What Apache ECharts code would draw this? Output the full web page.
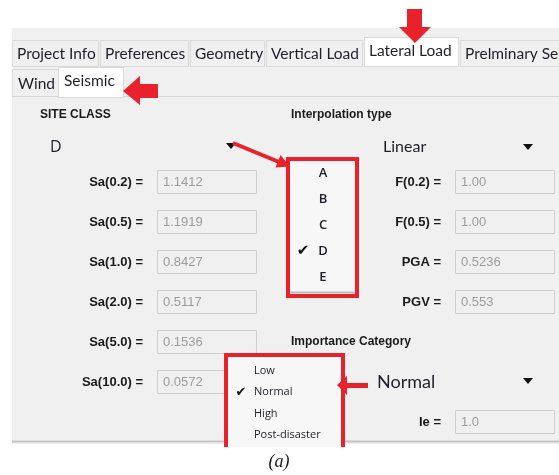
<!doctype html>
<html>
<head>
<meta charset="utf-8">
<title>Seismic - Lateral Load</title>
<script src="https://cdn.jsdelivr.net/npm/echarts@6/dist/echarts.min.js"></script>
<style>
    body{margin:0;background:#fff;}
    #main{width:559px;height:475px;}
</style>
</head>
<body>
<div id="main"></div>
<script>
    // texts and values
    var topTabs = ['Project Info', 'Preferences', 'Geometry', 'Vertical Load', 'Lateral Load', 'Prelminary Sec'];
    var activeTop = 'Lateral Load';
    var subTabs = ['Wind', 'Seismic'];
    var activeSub = 'Seismic';
    var saLabels = ['Sa(0.2) =', 'Sa(0.5) =', 'Sa(1.0) =', 'Sa(2.0) =', 'Sa(5.0) =', 'Sa(10.0) ='];
    var saValues = ['1.1412', '1.1919', '0.8427', '0.5117', '0.1536', '0.0572'];
    var fLabels = ['F(0.2) =', 'F(0.5) =', 'PGA =', 'PGV ='];
    var fValues = ['1.00', '1.00', '0.5236', '0.553'];
    var siteClasses = ['A', 'B', 'C', 'D', 'E'];
    var siteClass = 'D';
    var interpolation = 'Linear';
    var categories = ['Low', 'Normal', 'High', 'Post-disaster'];
    var category = 'Normal';
    var ieLabel = 'Ie =';
    var ieValue = '1.0';
    var caption = '(a)';

    // layout
    var tabEdges = [12, 100, 190, 266, 364, 460, 575];
    var subEdges = [12, 58, 123];
    var RED = '#e8212b';
    var UI = '"Open Sans", "Noto Sans", sans-serif';
    var TAB = 'Lato, "Open Sans", sans-serif';
    var LB = 'bold 13px "Liberation Sans", Arial, sans-serif';
    var g = [];

    function rect(x, y, w, h, fill, stroke, lw) {
        g.push({type: 'rect', shape: {x: x, y: y, width: w, height: h},
            style: {fill: fill || 'none', stroke: stroke || 'none', lineWidth: lw || 1}});
    }
    function text(x, y, s, font, color, align) {
        g.push({type: 'text', style: {x: x, y: y, text: s, font: font, fill: color || '#1e1e2a',
            textAlign: align || 'left', verticalAlign: 'middle', textVerticalAlign: 'middle'}});
    }
    function line(pts, color, lw) {
        g.push({type: 'polyline', shape: {points: pts}, style: {stroke: color, lineWidth: lw || 1, fill: 'none'}});
    }
    function poly(pts, color) {
        g.push({type: 'polygon', shape: {points: pts}, style: {fill: color}});
    }
    function tri(cx, cy) {
        poly([[cx - 5, cy - 3], [cx + 5, cy - 3], [cx, cy + 3]], '#111');
    }
    function box(x, y, s) {
        rect(x + 0.5, y + 0.5, 99, 23, '#f0f0f0', '#cfcfcf');
        text(x + 6, y + 12.5, s, '13px "Liberation Sans", Arial, sans-serif', '#9c9c9c');
    }

    // window background
    rect(12, 28, 560, 416, '#f0f0f0');

    // top tabs
    topTabs.forEach(function (t, i) {
        var x0 = tabEdges[i], x1 = tabEdges[i + 1] - 2, on = t === activeTop;
        rect(x0 + 0.5, (on ? 37 : 40) + 0.5, x1 - x0, on ? 29 : 26, on ? '#ffffff' : '#f0f0f0', '#d9d9d9');
        text(x0 + 5, on ? 51 : 54, t, '15.5px ' + TAB, '#1e1e2a');
    });
    // sub tabs
    subTabs.forEach(function (t, i) {
        var x0 = subEdges[i], x1 = subEdges[i + 1], on = t === activeSub;
        rect(x0 + 0.5, (on ? 67 : 69) + 0.5, x1 - x0, on ? 30 : 27, on ? '#ffffff' : '#f0f0f0', '#d9d9d9');
        text(x0 + 6, on ? 81 : 84, t, '15.5px ' + TAB, '#1e1e2a');
    });
    line([[123, 96.5], [575, 96.5]], '#d6d6d6');
    line([[12, 96.5], [58, 96.5]], '#d6d6d6');

    // headings
    text(40, 115, 'SITE CLASS', 'bold 12px "Liberation Sans", Arial, sans-serif', '#1a1a1a');
    text(291, 115, 'Interpolation type', 'bold 12px "Liberation Sans", Arial, sans-serif', '#1a1a1a');
    text(291, 342, 'Importance Category', 'bold 12px "Liberation Sans", Arial, sans-serif', '#1a1a1a');

    // combo boxes
    text(50, 147, siteClass, '16px ' + UI, '#1e1e2a');
    tri(231, 146);
    text(383, 147, interpolation, '16px ' + TAB, '#1e1e2a');
    tri(528, 147);
    text(377, 382, category, '18px ' + TAB, '#1e1e2a');
    tri(528, 381);

    // spectral values
    saLabels.forEach(function (l, i) {
        var y = 170 + i * 40;
        text(143, y + 12, l, LB, '#1a1a1a', 'right');
        box(157, y, saValues[i]);
    });
    fLabels.forEach(function (l, i) {
        var y = 170 + i * 40;
        text(441, y + 12, l, LB, '#1a1a1a', 'right');
        box(455, y, fValues[i]);
    });
    text(441, 422, ieLabel, LB, '#1a1a1a', 'right');
    box(455, 410, ieValue);

    // bottom edge of window
    line([[12, 441.5], [575, 441.5]], '#c4c4c4', 2);

    // site class drop list
    rect(289, 160, 68, 135, '#f7f7f7');
    line([[290, 292.5], [356, 292.5]], '#bdbdbd', 2);
    siteClasses.forEach(function (c, i) {
        var y = 173 + i * 26;
        text(323, y, c, '600 13px ' + UI, '#1e1e2a', 'center');
        if (c === siteClass) text(303, y, '\u2714', '15px "DejaVu Sans"', '#111', 'center');
    });
    rect(288, 159, 69, 137, null, RED, 4);

    // importance drop list
    rect(226, 355, 118, 92, '#f7f7f7');
    categories.forEach(function (c, i) {
        var y = 371 + i * 21.3;
        text(254, y, c, '11px ' + UI, '#1e1e2a');
        if (c === category) text(241, y, '\u2714', '13px "DejaVu Sans"', '#111', 'center');
    });
    line([[226, 447], [226, 355], [343, 355], [343, 447]], RED, 4);

    // arrows
    poly([[407, 9], [422, 9], [422, 27], [431, 27], [415, 43], [399, 27], [407, 27]], RED);
    poly([[123, 91], [140, 76], [140, 84], [158, 84], [158, 98], [140, 98], [140, 105]], RED);
    poly([[337, 385], [347, 376], [347, 383], [368, 383], [368, 388], [347, 388], [347, 395]], RED);
    line([[233, 143], [279, 162]], RED, 4);
    poly([[290, 166.5], [275.5, 167.5], [280.5, 155]], RED);

    // caption
    text(279, 462, caption, 'italic 18px "Liberation Serif", "DejaVu Serif", serif', '#1a1a1a', 'center');

    var chart = echarts.init(document.getElementById('main'));
    chart.setOption({animation: false, graphic: {elements: g}});
</script>
</body>
</html>
